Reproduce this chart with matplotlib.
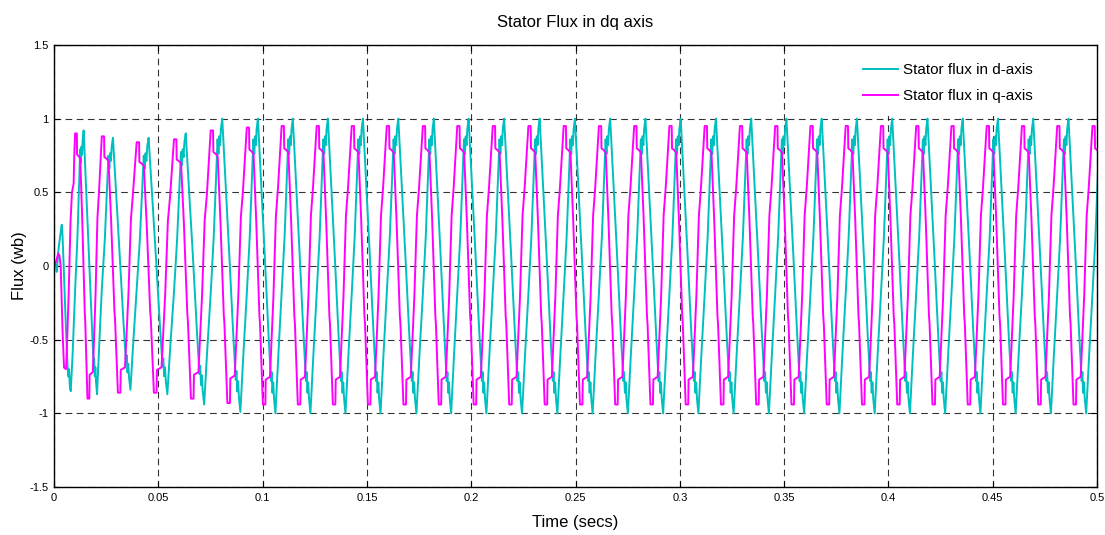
import numpy as np
import matplotlib
matplotlib.use("Agg")
import matplotlib.pyplot as plt
from matplotlib import font_manager
from matplotlib.patches import Rectangle

# pick a narrow sans font if one is around (matlab-ish look)
names = {f.name for f in font_manager.fontManager.ttflist}
fam = "Liberation Sans Narrow" if "Liberation Sans Narrow" in names else "Liberation Sans"
plt.rcParams["font.family"] = [fam, "DejaVu Sans"]

# ---- data ----
# times (s) of each q-axis flux peak; one cycle runs from one peak to the next
q_peak_times = [0.0101, 0.0229, 0.0396, 0.0575, 0.0751, 0.0924, 0.1091, 0.1259,
                0.1427, 0.1595, 0.1768, 0.1933, 0.2103, 0.2274, 0.2443, 0.2612,
                0.2781, 0.2950, 0.3119, 0.3288, 0.3457, 0.3626, 0.3795, 0.3964,
                0.4133, 0.4302, 0.4471, 0.4640, 0.4809, 0.4978, 0.5147]

# one steady cycle of each curve, phase 0 = q peak, values normalised to +-1
q_shape_phase = [0.000, 0.065, 0.074, 0.127, 0.193, 0.269, 0.363, 0.380, 0.462,
                 0.533, 0.544, 0.666, 0.765, 0.836, 0.884, 0.895]
q_shape_val = [1.00, 1.00, 0.84, 0.83, 0.81, 0.34, -0.36, -0.42, -1.00,
               -1.00, -0.82, -0.80, -0.22, 0.36, 0.53, 0.56]

d_shape_phase = [0.000, 0.085, 0.142, 0.170, 0.190, 0.215, 0.238, 0.261, 0.283,
                 0.320, 0.397, 0.510, 0.623, 0.694, 0.714, 0.737, 0.759, 0.782,
                 0.822, 0.907]
d_shape_val = [-0.19, 0.20, 0.55, 0.72, 0.86, 0.76, 0.88, 0.82, 0.93,
               1.00, 0.64, 0.10, -0.46, -0.78, -0.72, -0.86, -0.79, -0.90,
               -1.00, -0.60]

# peak / trough size of every cycle (start-up cycles are smaller)
q_pos = [0.90, 0.88, 0.84, 0.86, 0.92, 0.94, 0.95, 0.95, 0.95, 0.95,
         0.95, 0.95, 0.95, 0.95, 0.95, 0.95, 0.95, 0.95, 0.95, 0.95,
         0.95, 0.95, 0.95, 0.95, 0.95, 0.95, 0.95, 0.95, 0.95, 0.95]
q_neg = [0.90, 0.86, 0.86, 0.90, 0.93, 0.94, 0.94, 0.94, 0.94, 0.94,
         0.94, 0.94, 0.94, 0.94, 0.94, 0.94, 0.94, 0.94, 0.94, 0.94,
         0.94, 0.94, 0.94, 0.94, 0.94, 0.94, 0.94, 0.94, 0.94, 0.94]
d_pos = [0.92, 0.87, 0.87, 0.90, 1.00, 1.00, 1.00, 1.00, 1.00, 1.00,
         1.00, 1.00, 1.00, 1.00, 1.00, 1.00, 1.00, 1.00, 1.00, 1.00,
         1.00, 1.00, 1.00, 1.00, 1.00, 1.00, 1.00, 1.00, 1.00, 1.00]
d_neg = [0.87, 0.84, 0.87, 0.94, 0.99, 1.00, 1.00, 1.00, 1.00, 1.00,
         1.00, 1.00, 1.00, 1.00, 1.00, 1.00, 1.00, 1.00, 1.00, 1.00,
         1.00, 1.00, 1.00, 1.00, 1.00, 1.00, 1.00, 1.00, 1.00, 1.00]

# start-up before the first q peak
start_t_q = [0.0, 0.0010, 0.0020, 0.0026, 0.0032, 0.0041, 0.0048, 0.0058,
             0.0070, 0.0079, 0.0086, 0.0094, 0.0097]
start_q = [0.0, 0.03, 0.085, 0.07, 0.0, -0.45, -0.69, -0.70,
           -0.20, 0.30, 0.50, 0.56, 0.75]
start_t_d = [0.0, 0.0007, 0.0013, 0.0022, 0.0031, 0.0037, 0.0041, 0.0055,
             0.0065, 0.0069, 0.0072, 0.0076, 0.0080, 0.0089, 0.0097]
start_d = [0.0, 0.01, -0.04, 0.12, 0.22, 0.28, 0.20, -0.35,
           -0.68, -0.75, -0.70, -0.82, -0.85, -0.60, -0.30]


def build(t_start, v_start, phase, shape, pos, neg):
    ts = list(t_start)
    vs = list(v_start)
    phase = np.array(phase)
    shape = np.array(shape)
    for k in range(len(q_peak_times) - 1):
        t0, t1 = q_peak_times[k], q_peak_times[k + 1]
        amp = np.where(shape >= 0, pos[k], neg[k])
        ts.extend(t0 + phase * (t1 - t0))
        vs.extend(shape * amp)
    return np.array(ts), np.array(vs)


td, flux_d = build(start_t_d, start_d, d_shape_phase, d_shape_val, d_pos, d_neg)
tq, flux_q = build(start_t_q, start_q, q_shape_phase, q_shape_val, q_pos, q_neg)

# ---- plot ----
fig = plt.figure(figsize=(11.05, 5.35), dpi=100)
ax = fig.add_axes([0.0489, 0.0897, 0.9439, 0.8262])
ax.set_axisbelow(True)

ax.plot(td, flux_d, color="#00BFBF", lw=1.4, label="Stator flux in d-axis", zorder=3)
ax.plot(tq, flux_q, color="#FF00FF", lw=1.4, label="Stator flux in q-axis", zorder=3)

ax.set_xlim(0, 0.5)
ax.set_ylim(-1.5, 1.5)
xt = np.arange(0, 0.5001, 0.05)
ax.set_xticks(xt)
ax.set_xticklabels(["0", "0.05", "0.1", "0.15", "0.2", "0.25", "0.3", "0.35",
                    "0.4", "0.45", "0.5"])
ax.set_yticks([-1.5, -1, -0.5, 0, 0.5, 1, 1.5])
ax.set_yticklabels(["-1.5", "-1", "-0.5", "0", "0.5", "1", "1.5"])
ax.tick_params(direction="in", length=4, labelsize=8, top=True, right=True, pad=4)
ax.grid(True, color="black", linestyle=(0, (6, 4)), linewidth=0.8, alpha=0.8)
for s in ax.spines.values():
    s.set_linewidth(1.0)
    s.set_zorder(4)

ax.set_title("Stator Flux in dq axis", fontsize=12, pad=13)
ax.set_xlabel("Time (secs)", fontsize=12, labelpad=9)
ax.set_ylabel("Flux (wb)", fontsize=12)
ax.yaxis.set_label_coords(-0.026, 0.5)

# white legend area hides the grid in the top-right corner
ax.add_patch(Rectangle((0.76, 0.84), 0.24, 0.16, transform=ax.transAxes,
                       facecolor="white", edgecolor="none", zorder=1))
ax.legend(loc="upper left", bbox_to_anchor=(0.77, 0.972), fontsize=11,
          frameon=False, handlelength=2.3, handletextpad=0.3, labelspacing=0.75,
          borderaxespad=0.0)

fig.savefig("out.png", dpi=100)
